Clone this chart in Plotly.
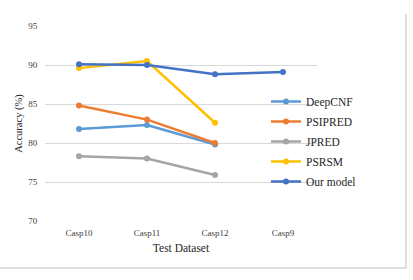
import plotly.graph_objects as go

categories = ["Casp10", "Casp11", "Casp12", "Casp9"]
series_names = ["DeepCNF", "PSIPRED", "JPRED", "PSRSM", "Our model"]
deepcnf = [81.8, 82.3, 79.8]
psipred = [84.8, 83.0, 80.0]
jpred = [78.3, 78.0, 75.9]
psrsm = [89.6, 90.5, 82.6]
our_model = [90.1, 90.0, 88.8, 89.1]
y_ticks = [70, 75, 80, 85, 90, 95]

colors = ["#5B9BD5", "#ED7D31", "#A5A5A5", "#FFC000", "#4472C4"]
values = [deepcnf, psipred, jpred, psrsm, our_model]

W, H = 413, 280
L, R, T, B = 45, 317, 26, 221  # plot area in px
pw, ph = R - L, B - T

fig = go.Figure()
for name, vals, c in zip(series_names, values, colors):
    fig.add_trace(go.Scatter(
        x=categories[:len(vals)], y=vals, name=name, mode="lines+markers",
        legendgroup=name,
        line=dict(color=c, width=2.5), marker=dict(color=c, size=6),
    ))

def px2paper_x(px):
    return (px - L) / pw

def px2paper_y(py):
    return (B - py) / ph

fig.update_layout(
    width=W, height=H,
    margin=dict(l=L, r=W - R, t=T, b=H - B, pad=0),
    paper_bgcolor="white", plot_bgcolor="white",
    font=dict(family="Liberation Serif, Times New Roman, serif", color="#404040", size=9),
    showlegend=True,
    legend=dict(
        x=px2paper_x(266), y=px2paper_y(87), xanchor="left", yanchor="top",
        font=dict(size=11.5, color="#262626"), bgcolor="rgba(0,0,0,0)",
        itemwidth=30, tracegroupgap=1, traceorder="grouped",
    ),
    xaxis=dict(
        type="category", categoryorder="array", categoryarray=categories,
        range=[-0.5, 3.5], showgrid=False, zeroline=False, showline=False,
        ticks="", tickfont=dict(size=9, color="#404040"), ticklabelstandoff=5,
        title=dict(text="Test Dataset", font=dict(size=11.5, color="#262626"), standoff=6),
    ),
    yaxis=dict(
        range=[70, 95], tickvals=y_ticks, showgrid=True, gridcolor="#D9D9D9",
        gridwidth=1, zeroline=False, showline=False,
        ticks="outside", ticklen=5, tickcolor="rgba(0,0,0,0)",
        tickfont=dict(size=9, color="#404040"),
        title=dict(text="Accuracy (%)", font=dict(size=10.5, color="#262626"), standoff=3),
    ),
    shapes=[
        dict(type="line", xref="paper", yref="paper",
             x0=px2paper_x(406), x1=px2paper_x(406), y0=px2paper_y(14), y1=px2paper_y(268),
             line=dict(color="#BFBFBF", width=1)),
        dict(type="line", xref="paper", yref="paper",
             x0=px2paper_x(0), x1=px2paper_x(406), y0=px2paper_y(268), y1=px2paper_y(268),
             line=dict(color="#BFBFBF", width=1)),
    ],
)

fig.write_html("out.html", config={"displayModeBar": False},
               post_script="document.body.style.margin='0px';")
